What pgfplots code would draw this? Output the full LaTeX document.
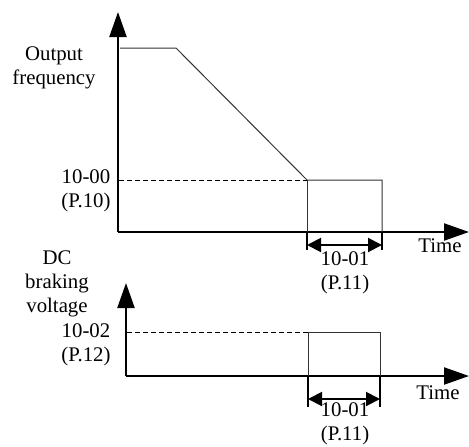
\documentclass[border=0pt]{standalone}
\usepackage{fontspec}
\setmainfont{Liberation Serif}
\usepackage{pgfplots}
\pgfplotsset{compat=1.18}
\usetikzlibrary{arrows.meta}
\tikzset{
  dimarr/.style={line width=1pt,
    {Triangle[length=7pt,width=7pt]}-{Triangle[length=7pt,width=7pt]}},
  sig/.style={black!80, line width=0.5pt},
  ref/.style={black, line width=0.5pt, dash pattern=on 2.5pt off 1.5pt},
}
\pgfplotsset{
  diag/.style={
    x=0.5pt, y=0.5pt, anchor=south west,
    axis lines=left, xtick=\empty, ytick=\empty, clip=false,
    axis line style={line width=1.1pt, -{Triangle[length=12.5pt,width=8.5pt]}},
  },
}
\begin{document}
\begin{tikzpicture}[font=\fontsize{10.4}{12}\selectfont]
\useasboundingbox (0,0) rectangle (234.5pt,223pt);
% output frequency
\begin{axis}[diag, at={(59pt,107pt)}, xmin=118, xmax=469, ymin=214, ymax=434]
\addplot[sig] coordinates {(120,398) (176,398) (307,266) (382,266) (382,214)};
\addplot[ref] coordinates {(119,266) (307,266)};
\draw[sig] (axis cs:307,266) -- (axis cs:307,214);
\draw[line width=0.8pt] (axis cs:307,214) -- (axis cs:307,196);
\draw[line width=0.8pt] (axis cs:382,214) -- (axis cs:382,196);
\draw[dimarr] (axis cs:307,201) -- (axis cs:382,201);
\node[align=center] at (axis cs:345,173) {10-01\\(P.11)};
\node at (axis cs:440,200) {Time};
\node[align=center] at (axis cs:86,255) {10-00\\(P.10)};
\node[align=center] at (axis cs:54,378) {Output\\frequency};
\end{axis}
% DC braking voltage
\begin{axis}[diag, at={(63pt,35pt)}, xmin=126, xmax=469, ymin=70, ymax=163]
\addplot[sig] coordinates {(308,70) (308,114) (380,114) (380,70)};
\addplot[ref] coordinates {(127,114) (308,114)};
\draw[line width=0.8pt] (axis cs:308,70) -- (axis cs:308,39);
\draw[line width=0.8pt] (axis cs:380,70) -- (axis cs:380,39);
\draw[dimarr] (axis cs:308,47) -- (axis cs:380,47);
\node[align=center] at (axis cs:345,22) {10-01\\(P.11)};
\node at (axis cs:438,53) {Time};
\node[align=center] at (axis cs:86,101) {10-02\\(P.12)};
\node[align=center] at (axis cs:57,162) {DC\\braking\\voltage};
\end{axis}
\end{tikzpicture}
\end{document}
